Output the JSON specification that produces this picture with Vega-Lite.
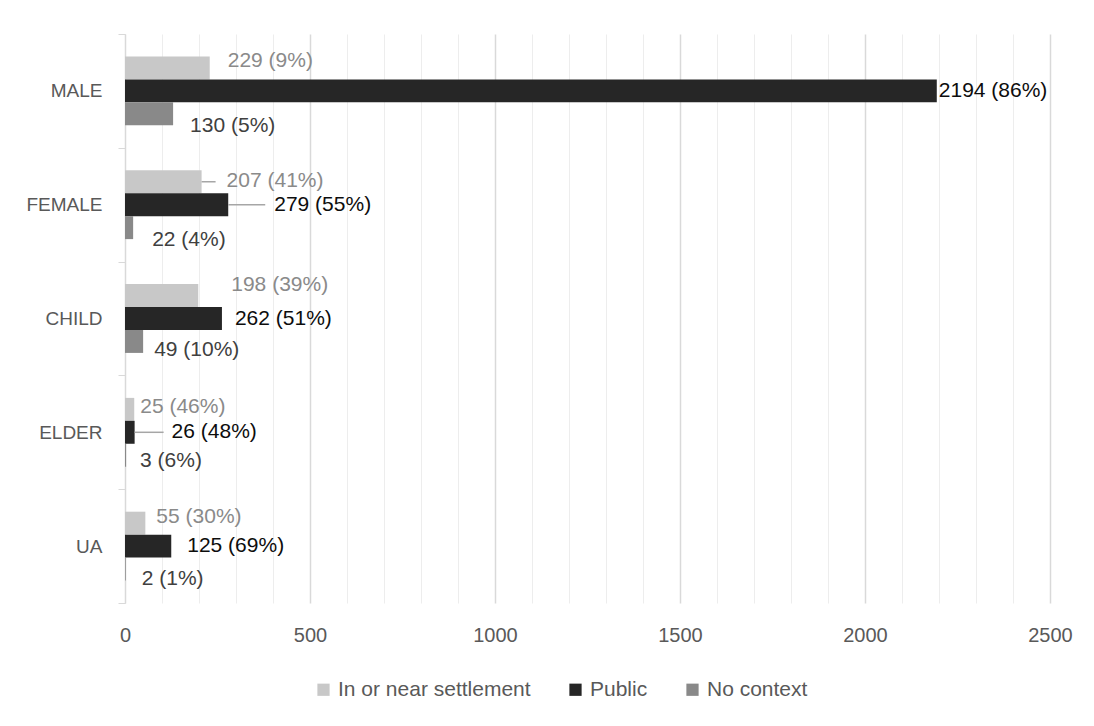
{
  "$schema": "https://vega.github.io/schema/vega-lite/v6.json",
  "width": 925,
  "height": 569,
  "autosize": {"type": "none"},
  "padding": {"left": 125, "top": 34, "right": 44, "bottom": 123},
  "background": "white",
  "config": {"font": "Liberation Sans", "view": {"stroke": null}},
  "data": {
    "values": [
      {"cat": "MALE", "series": "In or near settlement", "value": 229, "label": "229 (9%)"},
      {"cat": "MALE", "series": "Public", "value": 2194, "label": "2194 (86%)"},
      {"cat": "MALE", "series": "No context", "value": 130, "label": "130 (5%)"},
      {"cat": "FEMALE", "series": "In or near settlement", "value": 207, "label": "207 (41%)"},
      {"cat": "FEMALE", "series": "Public", "value": 279, "label": "279 (55%)"},
      {"cat": "FEMALE", "series": "No context", "value": 22, "label": "22 (4%)"},
      {"cat": "CHILD", "series": "In or near settlement", "value": 198, "label": "198 (39%)"},
      {"cat": "CHILD", "series": "Public", "value": 262, "label": "262 (51%)"},
      {"cat": "CHILD", "series": "No context", "value": 49, "label": "49 (10%)"},
      {"cat": "ELDER", "series": "In or near settlement", "value": 25, "label": "25 (46%)"},
      {"cat": "ELDER", "series": "Public", "value": 26, "label": "26 (48%)"},
      {"cat": "ELDER", "series": "No context", "value": 3, "label": "3 (6%)"},
      {"cat": "UA", "series": "In or near settlement", "value": 55, "label": "55 (30%)"},
      {"cat": "UA", "series": "Public", "value": 125, "label": "125 (69%)"},
      {"cat": "UA", "series": "No context", "value": 2, "label": "2 (1%)"}
    ]
  },
  "encoding": {
    "y": {
      "field": "cat", "type": "nominal",
      "sort": ["MALE", "FEMALE", "CHILD", "ELDER", "UA"],
      "scale": {"paddingInner": 0, "paddingOuter": 0},
      "axis": {
        "title": null, "domain": true, "domainColor": "#d9d9d9", "domainWidth": 1,
        "ticks": true, "tickColor": "#d9d9d9", "tickSize": 7, "tickBand": "extent",
        "labelFontSize": 19, "labelColor": "#595959", "labelPadding": 16, "grid": false
      }
    },
    "yOffset": {
      "field": "series", "type": "nominal",
      "sort": ["In or near settlement", "Public", "No context"],
      "scale": {"paddingInner": 0, "paddingOuter": 0.98}
    },
    "x": {
      "field": "value", "type": "quantitative",
      "scale": {"domain": [0, 2500], "nice": false},
      "axis": {
        "title": null, "domain": false, "ticks": false,
        "values": [0,100,200,300,400,500,600,700,800,900,1000,1100,1200,1300,1400,1500,1600,1700,1800,1900,2000,2100,2200,2300,2400,2500],
        "labelExpr": "datum.value % 500 === 0 ? datum.label : ''",
        "format": "d", "labelOverlap": false, "labelFlush": false,
        "labelFontSize": 20, "labelColor": "#595959", "labelPadding": 22,
        "grid": true,
        "gridColor": {"condition": {"test": "datum.value % 500 === 0", "value": "#d9d9d9"}, "value": "#ededed"},
        "gridWidth": {"condition": {"test": "datum.value % 500 === 0", "value": 1.5}, "value": 1}
      }
    }
  },
  "layer": [
    {
      "mark": {"type": "bar"},
      "encoding": {
        "color": {
          "field": "series", "type": "nominal",
          "scale": {"domain": ["In or near settlement", "Public", "No context"], "range": ["#c8c8c8", "#262626", "#898989"]},
          "legend": {
            "title": null, "orient": "none", "direction": "horizontal",
            "legendX": 188, "legendY": 645, "symbolType": "square", "symbolSize": 150,
            "symbolStrokeWidth": 0, "labelFontSize": 21, "labelColor": "#595959",
            "labelLimit": 0, "columnPadding": 34, "labelOffset": 4
          }
        }
      }
    },
    {
      "transform": [{"filter": "datum.cat === 'FEMALE' && datum.series === 'In or near settlement'"}],
      "mark": {"type": "rule", "stroke": "#a6a6a6", "strokeWidth": 1.5, "x2Offset": 14},
      "encoding": {"x2": {"field": "value"}}
    },
    {
      "transform": [{"filter": "datum.cat === 'FEMALE' && datum.series === 'Public'"}],
      "mark": {"type": "rule", "stroke": "#a6a6a6", "strokeWidth": 1.5, "x2Offset": 37},
      "encoding": {"x2": {"field": "value"}}
    },
    {
      "transform": [{"filter": "datum.cat === 'ELDER' && datum.series === 'Public'"}],
      "mark": {"type": "rule", "stroke": "#a6a6a6", "strokeWidth": 1.5, "x2Offset": 29},
      "encoding": {"x2": {"field": "value"}}
    },
    {"transform": [{"filter": "datum.cat === 'MALE' && datum.series === 'In or near settlement'"}], "mark": {"type": "text", "align": "left", "baseline": "middle", "fontSize": 21, "fill": "#8a8a8a", "dx": 18, "dy": -7}, "encoding": {"text": {"field": "label"}}},
    {"transform": [{"filter": "datum.cat === 'FEMALE' && datum.series === 'In or near settlement'"}], "mark": {"type": "text", "align": "left", "baseline": "middle", "fontSize": 21, "fill": "#8a8a8a", "dx": 25, "dy": -1}, "encoding": {"text": {"field": "label"}}},
    {"transform": [{"filter": "datum.cat === 'CHILD' && datum.series === 'In or near settlement'"}], "mark": {"type": "text", "align": "left", "baseline": "middle", "fontSize": 21, "fill": "#8a8a8a", "dx": 33, "dy": -11}, "encoding": {"text": {"field": "label"}}},
    {"transform": [{"filter": "datum.cat === 'ELDER' && datum.series === 'In or near settlement'"}], "mark": {"type": "text", "align": "left", "baseline": "middle", "fontSize": 21, "fill": "#8a8a8a", "dx": 6, "dy": -2}, "encoding": {"text": {"field": "label"}}},
    {"transform": [{"filter": "datum.cat === 'UA' && datum.series === 'In or near settlement'"}], "mark": {"type": "text", "align": "left", "baseline": "middle", "fontSize": 21, "fill": "#8a8a8a", "dx": 11, "dy": -6}, "encoding": {"text": {"field": "label"}}},
    {"transform": [{"filter": "datum.cat === 'MALE' && datum.series === 'Public'"}], "mark": {"type": "text", "align": "left", "baseline": "middle", "fontSize": 21, "fill": "#0d0d0d", "dx": 2, "dy": 0}, "encoding": {"text": {"field": "label"}}},
    {"transform": [{"filter": "datum.cat === 'FEMALE' && datum.series === 'Public'"}], "mark": {"type": "text", "align": "left", "baseline": "middle", "fontSize": 21, "fill": "#0d0d0d", "dx": 46, "dy": 0}, "encoding": {"text": {"field": "label"}}},
    {"transform": [{"filter": "datum.cat === 'CHILD' && datum.series === 'Public'"}], "mark": {"type": "text", "align": "left", "baseline": "middle", "fontSize": 21, "fill": "#0d0d0d", "dx": 13, "dy": 0}, "encoding": {"text": {"field": "label"}}},
    {"transform": [{"filter": "datum.cat === 'ELDER' && datum.series === 'Public'"}], "mark": {"type": "text", "align": "left", "baseline": "middle", "fontSize": 21, "fill": "#0d0d0d", "dx": 37, "dy": 0}, "encoding": {"text": {"field": "label"}}},
    {"transform": [{"filter": "datum.cat === 'UA' && datum.series === 'Public'"}], "mark": {"type": "text", "align": "left", "baseline": "middle", "fontSize": 21, "fill": "#0d0d0d", "dx": 16, "dy": 0}, "encoding": {"text": {"field": "label"}}},
    {"transform": [{"filter": "datum.cat === 'MALE' && datum.series === 'No context'"}], "mark": {"type": "text", "align": "left", "baseline": "middle", "fontSize": 21, "fill": "#404040", "dx": 17, "dy": 12}, "encoding": {"text": {"field": "label"}}},
    {"transform": [{"filter": "datum.cat === 'FEMALE' && datum.series === 'No context'"}], "mark": {"type": "text", "align": "left", "baseline": "middle", "fontSize": 21, "fill": "#404040", "dx": 19, "dy": 12}, "encoding": {"text": {"field": "label"}}},
    {"transform": [{"filter": "datum.cat === 'CHILD' && datum.series === 'No context'"}], "mark": {"type": "text", "align": "left", "baseline": "middle", "fontSize": 21, "fill": "#404040", "dx": 11, "dy": 9}, "encoding": {"text": {"field": "label"}}},
    {"transform": [{"filter": "datum.cat === 'ELDER' && datum.series === 'No context'"}], "mark": {"type": "text", "align": "left", "baseline": "middle", "fontSize": 21, "fill": "#404040", "dx": 14, "dy": 6}, "encoding": {"text": {"field": "label"}}},
    {"transform": [{"filter": "datum.cat === 'UA' && datum.series === 'No context'"}], "mark": {"type": "text", "align": "left", "baseline": "middle", "fontSize": 21, "fill": "#404040", "dx": 16, "dy": 10}, "encoding": {"text": {"field": "label"}}}
  ]
}
